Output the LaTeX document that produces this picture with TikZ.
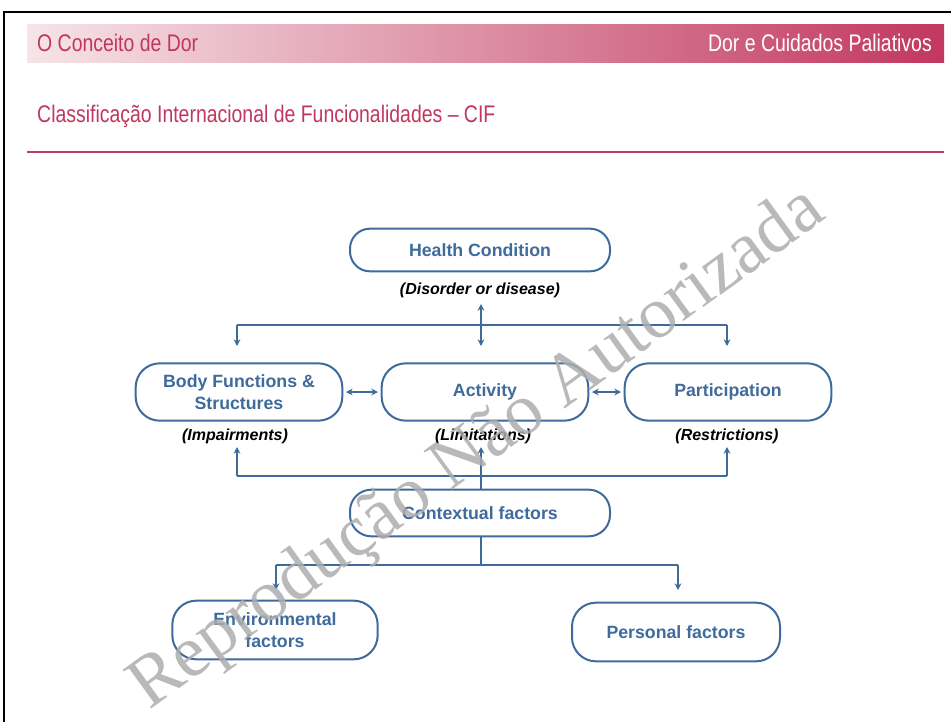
\documentclass[tikz,border=0pt]{standalone}
\usepackage{fontspec}
\setmainfont{Liberation Sans}
\newfontfamily\wmfont{Liberation Serif}
\usetikzlibrary{arrows.meta}
\definecolor{boxblue}{HTML}{3F6B9C}
\definecolor{crim}{HTML}{C2375F}
\definecolor{pinkl}{HTML}{F6E4E9}
\definecolor{pinkm}{HTML}{E3BBC6}
\tikzset{
  cbox/.style={draw=boxblue, line width=1.5pt, rounded corners=18pt, align=center,
    text=boxblue, font=\bfseries\fontsize{13.3}{17}\selectfont, inner sep=0pt},
  sub/.style={font=\bfseries\itshape\fontsize{12}{14}\selectfont, text=black, inner sep=0pt},
  head/.style={font=\fontsize{18}{20}\selectfont, inner sep=0pt, xscale=0.81},
  conn/.style={draw=boxblue, line width=1.4pt},
  tip/.style={-{Stealth[length=5pt,width=5pt]}},
  dtip/.style={{Stealth[length=5pt,width=5pt]}-{Stealth[length=5pt,width=5pt]}},
}
\begin{document}
\begin{tikzpicture}[x=0.75pt,y=-0.75pt]
\useasboundingbox (0,0) rectangle (951,722);
\fill[white] (0,0) rectangle (951,722);
\draw[line width=1.6pt] (4,722) -- (4,12) -- (951,12);
% header
\shade[left color=pinkl, middle color=pinkm, right color=crim] (27,24) rectangle (944,62);
\node[head, anchor=west, text=crim] (hl) at (37,43) {O Conceito de Dor};
\node[head, anchor=east, text=white] (hr) at (932,43) {Dor e Cuidados Paliativos};
\node[head, anchor=west, text=crim] (title) at (37,116) {Classificação Internacional de Funcionalidades – CIF};
\draw[crim, line width=2.2pt] (27,152) -- (944,152);
% boxes
\node[cbox, minimum width=195pt, minimum height=32pt, rounded corners=15pt] (hc) at (480,250) {Health Condition};
\node[sub] (hcs) at (480,290) {(Disorder or disease)};
\node[cbox, minimum width=155pt, minimum height=43pt] (bf) at (239,392) {Body Functions \&\\Structures};
\node[cbox, minimum width=155pt, minimum height=43pt] (ac) at (485,392) {Activity};
\node[cbox, minimum width=155pt, minimum height=43pt] (pa) at (728,392) {Participation};
\node[sub] (bfs) at (235,436) {(Impairments)};
\node[sub] (acs) at (483,436) {(Limitations)};
\node[sub] (pas) at (727,436) {(Restrictions)};
\node[cbox, minimum width=195pt, minimum height=35pt, rounded corners=16pt] (cf) at (480,513) {Contextual factors};
\node[cbox, minimum width=154pt, minimum height=44pt] (ef) at (275,630) {Environmental\\factors};
\node[cbox, minimum width=156pt, minimum height=44pt] (pf) at (676,632) {Personal factors};
% connectors top
\coordinate (tl) at (237,325);
\coordinate (tr) at (727,325);
\draw[conn] (tl) -- (tr);
\draw[conn, tip] (tl) -- (237,346);
\draw[conn, tip] (tr) -- (727,346);
\draw[conn, dtip] (481,304) -- (481,346);
\draw[conn, dtip] ([xshift=2pt]bf.east) -- ([xshift=-2pt]ac.west);
\draw[conn, dtip] ([xshift=2pt]ac.east) -- ([xshift=-2pt]pa.west);
% contextual up
\coordinate (ml) at (237,476);
\coordinate (mr) at (727,476);
\draw[conn] (ml) -- (mr);
\draw[conn, tip] (ml) -- (237,447);
\draw[conn, tip] (mr) -- (727,447);
\draw[conn, tip] (cf.north -| 481,0) -- (481,447);
% contextual down
\coordinate (bl) at (276,565);
\coordinate (br) at (678,565);
\draw[conn] (cf.south -| 481,0) -- (481,565);
\draw[conn] (bl) -- (br);
\draw[conn, tip] (bl) -- (276,590);
\draw[conn, tip] (br) -- (678,590);
% watermark
\node[rotate=36, text=black!32, opacity=0.85, font=\wmfont\fontsize{55}{55}\selectfont, inner sep=0pt] (wm) at (478,450) {Reprodução Não Autorizada};
\end{tikzpicture}
\end{document}
